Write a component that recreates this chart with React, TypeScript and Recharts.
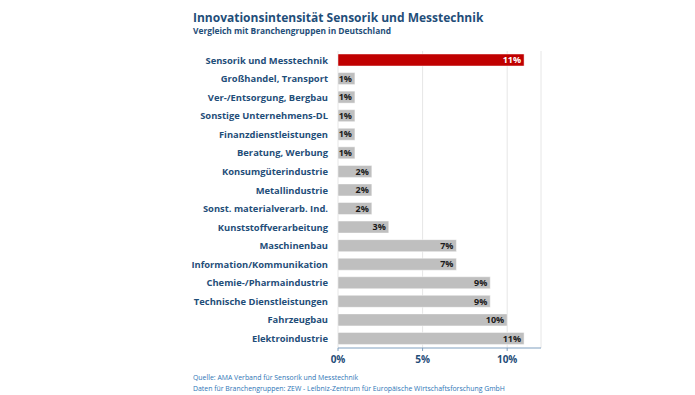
import { BarChart, Bar, XAxis, YAxis, CartesianGrid, Cell, LabelList } from "recharts";

const CATEGORIES = [
  "Sensorik und Messtechnik",
  "Großhandel, Transport",
  "Ver-/Entsorgung, Bergbau",
  "Sonstige Unternehmens-DL",
  "Finanzdienstleistungen",
  "Beratung, Werbung",
  "Konsumgüterindustrie",
  "Metallindustrie",
  "Sonst. materialverarb. Ind.",
  "Kunststoffverarbeitung",
  "Maschinenbau",
  "Information/Kommunikation",
  "Chemie-/Pharmaindustrie",
  "Technische Dienstleistungen",
  "Fahrzeugbau",
  "Elektroindustrie",
];

const VALUES = [11, 1, 1, 1, 1, 1, 2, 2, 2, 3, 7, 7, 9, 9, 10, 11];

const X_TICKS = [0, 5, 10];

const HIGHLIGHT = "Sensorik und Messtechnik";

const FONT = "'Open Sans', sans-serif";
const NAVY = "#1f4e79";
const RED = "#c00000";
const GREY = "#bfbfbf";

const data = CATEGORIES.map((name, i) => ({ name, value: VALUES[i] }));

function BarValue(props: any) {
  const { x, y, width, height, value, index } = props;
  const hl = CATEGORIES[index] === HIGHLIGHT;
  return (
    <text
      x={x + width - 3}
      y={y + height / 2}
      dy="0.36em"
      textAnchor="end"
      fontFamily={FONT}
      fontSize={9}
      fontWeight={700}
      fill={hl ? "#ffffff" : "#1a1a1a"}
    >
      {value}%
    </text>
  );
}

export default function App() {
  return (
    <div style={{ position: "fixed", left: 0, top: 0, width: 695, height: 395, background: "#fff", fontFamily: FONT }}>
      <div style={{ position: "absolute", left: 193, top: 9, fontSize: 12, fontWeight: 700, color: NAVY, whiteSpace: "nowrap" }}>
        Innovationsintensität Sensorik und Messtechnik
      </div>
      <div style={{ position: "absolute", left: 193, top: 25, fontSize: 8.4, fontWeight: 700, color: NAVY, whiteSpace: "nowrap" }}>
        Vergleich mit Branchengruppen in Deutschland
      </div>
      <BarChart
        width={695}
        height={395}
        data={data}
        layout="vertical"
        margin={{ top: 51, right: 154, bottom: 17, left: 0 }}
        barCategoryGap={3}
        style={{ position: "absolute", left: 0, top: 0 }}
      >
        <CartesianGrid horizontal={false} stroke="#e6e6e6" />
        <XAxis
          type="number"
          domain={[0, 12]}
          ticks={X_TICKS}
          tickFormatter={(v: number) => `${v}%`}
          axisLine={{ stroke: "#7f9fbf" }}
          tickLine={{ stroke: "#7f9fbf" }}
          tickSize={3}
          tickMargin={5}
          height={30}
          tick={{ fontFamily: FONT, fontSize: 10, fontWeight: 700, fill: NAVY }}
        />
        <YAxis
          type="category"
          dataKey="name"
          width={338}
          axisLine={false}
          tickLine={false}
          tickSize={0}
          tickMargin={10}
          interval={0}
          tick={{ fontFamily: FONT, fontSize: 9.4, fontWeight: 700, fill: NAVY }}
        />
        <Bar dataKey="value" barSize={12} stroke="rgba(255,255,255,0.45)" strokeWidth={1} isAnimationActive={false}>
          {data.map((d) => (
            <Cell key={d.name} fill={d.name === HIGHLIGHT ? RED : GREY} />
          ))}
          <LabelList dataKey="value" content={BarValue} />
        </Bar>
      </BarChart>
      <div style={{ position: "absolute", left: 193, top: 372, fontSize: 6.9, color: "#2e75b6", lineHeight: "11px", whiteSpace: "nowrap" }}>
        Quelle: AMA Verband für Sensorik und Messtechnik
      </div>
      <div style={{ position: "absolute", left: 193, top: 383, fontSize: 6.9, color: "#2e75b6", lineHeight: "11px", whiteSpace: "nowrap" }}>
        Daten für Branchengruppen: ZEW - Leibniz-Zentrum für Europäische Wirtschaftsforschung GmbH
      </div>
    </div>
  );
}
